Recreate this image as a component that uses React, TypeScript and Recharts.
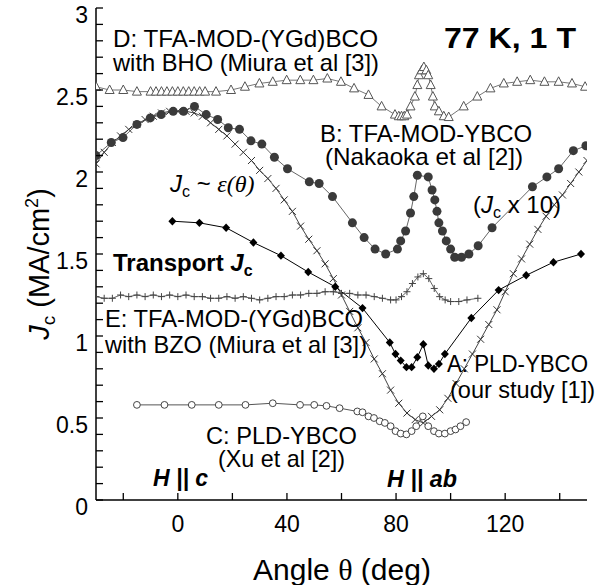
import React from 'react';
import { ComposedChart, Line, XAxis, YAxis } from 'recharts';

const FONT = '"Liberation Sans", Arial, Helvetica, sans-serif';
const SERIF = '"Liberation Serif", "Times New Roman", serif';

// axes
const xTicks = [-20, 0, 20, 40, 60, 80, 100, 120, 140];
const xTickLabels = [0, 40, 80, 120];
const yTicks = [
  0, 0.1, 0.2, 0.3, 0.4, 0.5, 0.6, 0.7, 0.8, 0.9, 1, 1.1, 1.2, 1.3, 1.4, 1.5,
  1.6, 1.7, 1.8, 1.9, 2, 2.1, 2.2, 2.3, 2.4, 2.5, 2.6, 2.7, 2.8, 2.9, 3,
];
const yTickLabels = [0, 0.5, 1, 1.5, 2, 2.5, 3];

// A: PLD-YBCO (our study), transport Jc
const aAngle = [-2, 7.9, 17.7, 27.7, 37.8, 47.8, 57.7, 67.7, 77.7, 79.8, 81.7, 83.8, 85.7, 87.8, 90, 91.8, 93.9, 95.7, 97.9, 107.6, 117.6, 127.7, 137.7, 147.8];
const aJc = [1.7, 1.69, 1.66, 1.57, 1.49, 1.39, 1.3, 1.17, 0.96, 0.89, 0.85, 0.81, 0.81, 0.87, 0.95, 0.82, 0.8, 0.83, 0.89, 1.11, 1.28, 1.37, 1.45, 1.5];

// B: TFA-MOD-YBCO (Nakaoka), Jc x 10
const bAngle = [-30, -24.4, -20.1, -15, -10.1, -6.1, -1.7, 2.1, 6.1, 10.4, 14.6, 18.5, 22.6, 26.8, 30.8, 35.4, 40.2, 48.2, 51.8, 56.7, 64, 68.3, 72.3, 76.2, 80.5, 81.7, 83.5, 85.3, 86.5, 87.8, 91.8, 93.2, 94.2, 95, 95.7, 97, 98.4, 100, 101.5, 104, 106.7, 110.1, 115.2, 130, 135.3, 139.6, 145, 149.6];
const bJc = [2.1, 2.18, 2.21, 2.29, 2.33, 2.35, 2.37, 2.37, 2.4, 2.35, 2.32, 2.27, 2.26, 2.19, 2.17, 2.09, 2.02, 1.94, 1.93, 1.85, 1.69, 1.6, 1.53, 1.5, 1.53, 1.58, 1.64, 1.75, 1.85, 1.98, 1.97, 1.89, 1.83, 1.76, 1.69, 1.64, 1.58, 1.53, 1.48, 1.48, 1.5, 1.55, 1.66, 1.91, 1.97, 2.02, 2.13, 2.16];

// C: PLD-YBCO (Xu)
const cAngle = [-15, -4.9, 5.1, 15, 24.8, 34.8, 44.8, 50, 54.5, 59.3, 65.8, 67.7, 69.9, 71.9, 74, 75.9, 78, 79.8, 81.7, 83.8, 85.7, 87.4, 89.8, 91.8, 93.9, 95.7, 97.9, 100, 101.8, 103.6, 105.7];
const cJc = [0.58, 0.58, 0.58, 0.58, 0.58, 0.59, 0.58, 0.58, 0.574, 0.56, 0.54, 0.535, 0.51, 0.5, 0.48, 0.47, 0.45, 0.42, 0.405, 0.4, 0.42, 0.45, 0.51, 0.45, 0.42, 0.405, 0.405, 0.42, 0.43, 0.45, 0.475];

// D: TFA-MOD-(YGd)BCO with BHO (Miura)
const dAngle = [-30, -25, -20, -15, -10, -8, -6, -4, -2, 0, 2, 4, 6, 8, 10, 14, 19.5, 24.6, 29.9, 34.8, 39.9, 44.9, 49.7, 54.8, 59.8, 64.6, 69.9, 74.7, 79.6, 81, 82, 83, 84, 85.3, 86.9, 87.8, 88.4, 89.4, 90.2, 91.1, 91.8, 92.7, 93.5, 94.2, 95.7, 97.5, 99.3, 104.8, 109.8, 114.6, 119.5, 124.4, 129.2, 134.4, 139.6, 144.5, 149.3];
const dJc = [2.52, 2.5, 2.5, 2.49, 2.49, 2.49, 2.49, 2.49, 2.49, 2.49, 2.49, 2.49, 2.49, 2.49, 2.49, 2.49, 2.5, 2.52, 2.54, 2.55, 2.56, 2.56, 2.56, 2.57, 2.55, 2.51, 2.47, 2.4, 2.35, 2.34, 2.34, 2.34, 2.35, 2.4, 2.46, 2.53, 2.59, 2.62, 2.64, 2.62, 2.59, 2.53, 2.46, 2.4, 2.37, 2.34, 2.335, 2.4, 2.46, 2.51, 2.54, 2.55, 2.56, 2.55, 2.55, 2.54, 2.52];

// E: TFA-MOD-(YGd)BCO with BZO (Miura)
const eAngle = [-30, -27, -24, -21, -18, -15, -12, -9, -6, -3, 0, 3, 6, 9, 12, 15, 18, 21, 24, 27, 30, 33, 36, 39, 42, 45, 48, 51, 54, 57, 60, 63, 66, 69, 72, 75, 78, 80, 82, 84, 86, 88, 90, 92, 94, 96, 98, 100, 103, 106, 110];
const eJc = [1.24, 1.23, 1.23, 1.25, 1.24, 1.25, 1.24, 1.25, 1.24, 1.25, 1.24, 1.25, 1.24, 1.24, 1.23, 1.23, 1.24, 1.23, 1.24, 1.23, 1.22, 1.23, 1.24, 1.24, 1.25, 1.25, 1.26, 1.26, 1.27, 1.27, 1.26, 1.26, 1.25, 1.25, 1.24, 1.23, 1.22, 1.22, 1.24, 1.27, 1.32, 1.36, 1.38, 1.35, 1.29, 1.24, 1.22, 1.21, 1.21, 1.22, 1.23];

// Jc ~ eps(theta)
const epsAngle = [-30, -27, -24, -21, -18, -15, -12, -9, -6, -3, 0, 3, 6, 9, 12, 15, 18, 21, 24, 27, 30, 33, 36, 39, 42, 45, 48, 51, 54, 57, 60, 63, 66, 69, 72, 75, 78, 81, 84, 87, 90, 93, 96, 99, 102, 105, 108, 111, 114, 117, 120, 123, 126, 129, 132, 135, 138, 141, 144, 147, 150];
const epsJc = [2.05, 2.12, 2.18, 2.22, 2.26, 2.29, 2.32, 2.34, 2.36, 2.37, 2.37, 2.37, 2.36, 2.34, 2.3, 2.26, 2.22, 2.17, 2.12, 2.07, 2.01, 1.96, 1.9, 1.83, 1.76, 1.67, 1.59, 1.52, 1.44, 1.35, 1.25, 1.15, 1.05, 0.96, 0.86, 0.77, 0.67, 0.59, 0.53, 0.49, 0.47, 0.51, 0.55, 0.62, 0.71, 0.8, 0.89, 0.98, 1.07, 1.16, 1.27, 1.38, 1.47, 1.56, 1.65, 1.73, 1.8, 1.86, 1.93, 2.0, 2.07];

const zip = (a: number[], j: number[]) => a.map((v, i) => ({ a: v, j: j[i] }));
const seriesA = zip(aAngle, aJc);
const seriesB = zip(bAngle, bJc);
const seriesC = zip(cAngle, cJc);
const seriesD = zip(dAngle, dJc);
const seriesE = zip(eAngle, eJc);
const seriesEps = zip(epsAngle, epsJc);

const TICK = 7;

const BottomTick = (p: any) => {
  const { x, y, payload } = p;
  const v = payload.value;
  return (
    <g>
      <line x1={x} x2={x} y1={y} y2={y - TICK} stroke="#000" strokeWidth={1.3} />
      {xTickLabels.includes(v) && (
        <text x={x} y={y + 32} textAnchor="middle" fontSize={23} fontFamily={FONT} fill="#000">
          {v}
        </text>
      )}
    </g>
  );
};

const TopTick = (p: any) => {
  const { x, y } = p;
  return <line x1={x} x2={x} y1={y} y2={y + TICK} stroke="#000" strokeWidth={1.3} />;
};

const LeftTick = (p: any) => {
  const { x, y, payload } = p;
  const v = payload.value;
  return (
    <g>
      <line x1={x} x2={x + TICK} y1={y} y2={y} stroke="#000" strokeWidth={1.3} />
      {yTickLabels.includes(v) && (
        <text x={x - 8} y={y + 7} dy="0.36em" textAnchor="end" fontSize={23} fontFamily={FONT} fill="#000">
          {v}
        </text>
      )}
    </g>
  );
};

const RightTick = (p: any) => {
  const { x, y } = p;
  return <line x1={x} x2={x - TICK} y1={y} y2={y} stroke="#000" strokeWidth={1.3} />;
};

// markers
const triDot = (p: any) => (
  <polygon
    key={`d${p.index}`}
    points={`${p.cx},${p.cy - 5} ${p.cx - 4.5},${p.cy + 3.5} ${p.cx + 4.5},${p.cy + 3.5}`}
    fill="#fff"
    stroke="#555"
    strokeWidth={1}
  />
);
const filledCircle = (p: any) => <circle key={`b${p.index}`} cx={p.cx} cy={p.cy} r={4.5} fill="#3a3a3a" />;
const openCircle = (p: any) => (
  <circle key={`c${p.index}`} cx={p.cx} cy={p.cy} r={3.4} fill="#fff" stroke="#444" strokeWidth={1} />
);
const diamond = (p: any) => (
  <polygon
    key={`a${p.index}`}
    points={`${p.cx},${p.cy - 4.2} ${p.cx + 4},${p.cy} ${p.cx},${p.cy + 4.2} ${p.cx - 4},${p.cy}`}
    fill="#000"
  />
);
const crossDot = (p: any) => (
  <path
    key={`x${p.index}`}
    d={`M${p.cx - 3.5},${p.cy - 3.5}L${p.cx + 3.5},${p.cy + 3.5}M${p.cx - 3.5},${p.cy + 3.5}L${p.cx + 3.5},${p.cy - 3.5}`}
    stroke="#333"
    strokeWidth={1}
  />
);
const plusDot = (p: any) => (
  <path
    key={`e${p.index}`}
    d={`M${p.cx - 3.5},${p.cy}L${p.cx + 3.5},${p.cy}M${p.cx},${p.cy - 3.5}L${p.cx},${p.cy + 3.5}`}
    stroke="#444"
    strokeWidth={1}
  />
);

const Label = ({ x, y, w, size = 24, weight = 'normal', style = 'normal', children }: any) => (
  <text
    x={x}
    y={y}
    fontSize={size}
    fontWeight={weight}
    fontStyle={style}
    fontFamily={FONT}
    fill="#000"
    textLength={w}
    lengthAdjust="spacingAndGlyphs"
  >
    {children}
  </text>
);

export default function App() {
  return (
    <div style={{ position: 'absolute', left: 0, top: 0, width: 603, height: 585, background: '#fff' }}>
      <ComposedChart width={603} height={585} margin={{ top: 8, right: 16, bottom: 0, left: 0 }}>
        <XAxis
          dataKey="a"
          type="number"
          domain={[-30, 150]}
          allowDataOverflow
          ticks={xTicks}
          interval={0}
          height={85}
          tickSize={0}
          tickMargin={0}
          tick={BottomTick}
          axisLine={{ stroke: '#000', strokeWidth: 1.5 }}
        />
        <XAxis
          xAxisId="top"
          orientation="top"
          dataKey="a"
          type="number"
          domain={[-30, 150]}
          allowDataOverflow
          ticks={xTicks}
          interval={0}
          height={0}
          tickSize={0}
          tickMargin={0}
          tick={TopTick}
          axisLine={{ stroke: '#000', strokeWidth: 1.5 }}
        />
        <YAxis
          type="number"
          domain={[0, 3]}
          allowDataOverflow
          ticks={yTicks}
          interval={0}
          width={96}
          tickSize={0}
          tickMargin={0}
          tick={LeftTick}
          axisLine={{ stroke: '#000', strokeWidth: 1.5 }}
        />
        <YAxis
          yAxisId="right"
          orientation="right"
          type="number"
          domain={[0, 3]}
          allowDataOverflow
          ticks={yTicks}
          interval={0}
          width={0}
          tickSize={0}
          tickMargin={0}
          tick={RightTick}
          axisLine={{ stroke: '#000', strokeWidth: 1.5 }}
        />
        <Line data={seriesD} dataKey="j" type="linear" stroke="#777" strokeWidth={1} dot={triDot} activeDot={false} isAnimationActive={false} />
        <Line data={seriesE} dataKey="j" type="linear" stroke="#666" strokeWidth={1} dot={plusDot} activeDot={false} isAnimationActive={false} />
        <Line data={seriesEps} dataKey="j" type="linear" stroke="#444" strokeWidth={1} dot={crossDot} activeDot={false} isAnimationActive={false} />
        <Line data={seriesC} dataKey="j" type="linear" stroke="#555" strokeWidth={1} dot={openCircle} activeDot={false} isAnimationActive={false} />
        <Line data={seriesB} dataKey="j" type="linear" stroke="#666" strokeWidth={1} dot={filledCircle} activeDot={false} isAnimationActive={false} />
        <Line data={seriesA} dataKey="j" type="linear" stroke="#000" strokeWidth={1} dot={diamond} activeDot={false} isAnimationActive={false} />
      </ComposedChart>
      <svg width={603} height={585} style={{ position: 'absolute', left: 0, top: 0, pointerEvents: 'none' }}>
        <Label x={113} y={47} w={265}>D: TFA-MOD-(YGd)BCO</Label>
        <Label x={113} y={71} w={266}>with BHO (Miura et al [3])</Label>
        <Label x={444} y={48} w={132} size={30} weight="bold">77 K, 1 T</Label>
        <Label x={320} y={142} w={212}>B: TFA-MOD-YBCO</Label>
        <Label x={325} y={165} w={198}>(Nakaoka et al [2])</Label>
        <text x={170} y={192} fontSize={24} fontFamily={FONT} fill="#000">
          <tspan fontStyle="italic">J</tspan>
          <tspan fontSize={16} dy={5}>c</tspan>
          <tspan dy={-5}> ~ </tspan>
          <tspan fontFamily={SERIF} fontStyle="italic">ε(θ)</tspan>
        </text>
        <text x={473} y={213} fontSize={24} fontFamily={FONT} fill="#000">
          (<tspan fontStyle="italic">J</tspan>
          <tspan fontSize={16} dy={5}>c</tspan>
          <tspan dy={-5}> x 10)</tspan>
        </text>
        <text x={113} y={271} fontSize={24} fontWeight="bold" fontFamily={FONT} fill="#000">
          Transport <tspan fontStyle="italic">J</tspan>
          <tspan fontSize={16} dy={5}>c</tspan>
        </text>
        <Label x={105} y={327} w={258}>E: TFA-MOD-(YGd)BCO</Label>
        <Label x={105} y={353} w={262}>with BZO (Miura et al [3])</Label>
        <Label x={447} y={372} w={141}>A: PLD-YBCO</Label>
        <Label x={450} y={398} w={145}>(our study [1])</Label>
        <Label x={206} y={444} w={151}>C: PLD-YBCO</Label>
        <Label x={218} y={467} w={127}>(Xu et al [2])</Label>
        <Label x={153} y={486} w={55} weight="bold" style="italic">H || c</Label>
        <Label x={387} y={487} w={70} weight="bold" style="italic">H || ab</Label>
        <text x={342} y={580} textAnchor="middle" fontSize={30} fontFamily={FONT} fill="#000">
          Angle <tspan fontFamily={SERIF}>θ</tspan> (deg)
        </text>
        <text transform="translate(49,264) rotate(-90)" textAnchor="middle" fontSize={29} fontFamily={FONT} fill="#000">
          <tspan fontStyle="italic">J</tspan>
          <tspan fontSize={19} dy={6}>c</tspan>
          <tspan dy={-6}> (MA/cm</tspan>
          <tspan fontSize={18} dy={-11}>2</tspan>
          <tspan dy={11}>)</tspan>
        </text>
      </svg>
    </div>
  );
}
